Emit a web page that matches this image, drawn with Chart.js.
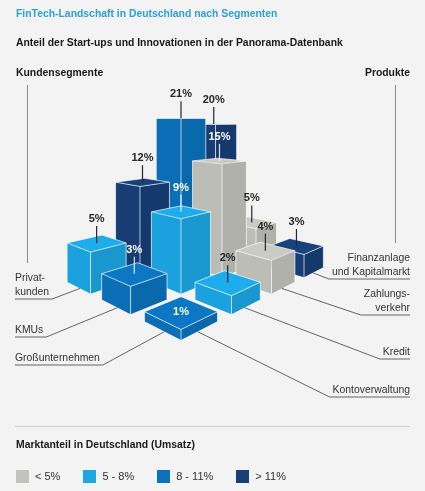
<!DOCTYPE html>
<html lang="de">
<head>
<meta charset="utf-8">
<title>FinTech-Landschaft in Deutschland nach Segmenten</title>
<script src="https://cdn.jsdelivr.net/npm/chart.js@4.4.1/dist/chart.umd.min.js"></script>
<style>
  html, body { margin: 0; padding: 0; background: #f3f3f3; }
  body { width: 425px; height: 491px; position: relative; overflow: hidden;
         font-family: 'Liberation Sans', Arial, sans-serif; color: #1a1a1a; }
  #chart { position: absolute; left: 0; top: 0; }
  .txt { position: absolute; font-size: 10.4px; line-height: 13px; white-space: nowrap; }
  .b { font-weight: bold; }
  .title { color: #2ba0d9; }
  .rule { position: absolute; left: 15px; width: 395px; height: 1px; background: #cfcfcf; top: 426px; }
  #legend { position: absolute; left: 16px; top: 470px; display: flex; font-size: 11px; line-height: 13px; color: #333; }
  #legend .item { display: flex; align-items: center; margin-right: 23px; }
  #legend .box { width: 13px; height: 13px; margin-right: 6px; }
</style>
</head>
<body>
<canvas id="chart" width="425" height="491"></canvas>

<div class="txt b title" style="top:7px;left:16px">FinTech-Landschaft in Deutschland nach Segmenten</div>
<div class="txt b" style="top:36px;left:16px">Anteil der Start-ups und Innovationen in der Panorama-Datenbank</div>
<div class="txt b" style="top:66px;left:16px">Kundensegmente</div>
<div class="txt b" style="top:66px;right:15px">Produkte</div>

<div class="rule"></div>
<div class="txt b" style="top:438px;left:16px">Marktanteil in Deutschland (Umsatz)</div>
<div id="legend"></div>

<script>
// ------------------------------------------------------------------
// DATA
const products = ['Kontoverwaltung', 'Kredit', 'Zahlungsverkehr', 'Finanzanlage und Kapitalmarkt'];
const productLabels = [['Kontoverwaltung'], ['Kredit'], ['Zahlungs-', 'verkehr'], ['Finanzanlage', 'und Kapitalmarkt']];
const segments = ['Großunternehmen', 'KMUs', 'Privatkunden'];
const segmentLabels = [['Großunternehmen'], ['KMUs'], ['Privat-', 'kunden']];

// share of start-ups (%) per segment, in product order
const grossunternehmen = [1, 2, 4, 3];
const kmus = [3, 9, 15, 5];
const privatkunden = [5, 12, 21, 20];

// market share class (index into marketClasses) per segment, in product order
const grossunternehmenClass = [2, 1, 0, 3];
const kmusClass = [2, 1, 0, 0];
const privatkundenClass = [1, 3, 2, 3];

const marketClasses = ['< 5%', '5 - 8%', '8 - 11%', '> 11%'];
const classColors = ['#c2c3bc', '#1ca6e4', '#0b72bd', '#183f78'];

const shares = [grossunternehmen, kmus, privatkunden];
const classes = [grossunternehmenClass, kmusClass, privatkundenClass];


// ------------------------------------------------------------------
// VIEW (2-point perspective of the grid, in px of the canvas)
const VIEW = { cx: 181, ax: 57, yh: 116, ground: 224, unit: 10.5, depth: 0.13, foot: 0.7 };
const LEFT_LINE_Y = [365, 337, 299];       // underline of segment labels
const RIGHT_LINE_Y = [397, 359, 315, 279]; // underline of product labels

// p = along products, q = along segments, h = value in %
function project(p, q, h) {
  const s = 1 / (1 + VIEW.depth * (p + q));
  return { x: VIEW.cx + VIEW.ax * (p - q) * s, y: VIEW.yh + (VIEW.ground - h * VIEW.unit) * s };
}

const cells = [];
shares.forEach((row, i) => {
  row.forEach((v, j) => cells.push({ i, j, v, c: classes[i][j] }));
});


// ------------------------------------------------------------------
// HELPERS
function shade(hex, f) {
  const n = parseInt(hex.slice(1), 16);
  const r = Math.min(255, Math.round(((n >> 16) & 255) * f));
  const g = Math.min(255, Math.round(((n >> 8) & 255) * f));
  const b = Math.min(255, Math.round((n & 255) * f));
  return `rgb(${r},${g},${b})`;
}

function poly(ctx, pts) {
  ctx.beginPath();
  ctx.moveTo(pts[0].x, pts[0].y);
  for (let k = 1; k < pts.length; k++) ctx.lineTo(pts[k].x, pts[k].y);
  ctx.closePath();
}

function inside(pt, pts) {
  let hit = false;
  for (let a = 0, b = pts.length - 1; a < pts.length; b = a++) {
    if ((pts[a].y > pt.y) !== (pts[b].y > pt.y) &&
        pt.x < (pts[b].x - pts[a].x) * (pt.y - pts[a].y) / (pts[b].y - pts[a].y) + pts[a].x) {
      hit = !hit;
    }
  }
  return hit;
}


// ------------------------------------------------------------------
// 3D BARS PLUGIN
const bars3d = {
  id: 'bars3d',
  afterDatasetsDraw(chart) {
    const ctx = chart.ctx;
    const xs = chart.scales.x;
    const ys = chart.scales.y;
    const px = pt => ({ x: xs.getPixelForValue(pt.x), y: ys.getPixelForValue(pt.y) });
    const w = VIEW.foot;

    const list = [];
    chart.data.datasets.forEach(ds => ds.data.forEach(d => list.push(d.cell)));
    list.sort((a, b) => (b.i + b.j) - (a.i + a.j));

    ctx.save();
    const drawn = [];
    list.forEach(cell => {
      const { i, j, v, c } = cell;
      const col = classColors[c];
      const f0 = px(project(j, i, 0)), l0 = px(project(j, i + w, 0)), r0 = px(project(j + w, i, 0));
      const f1 = px(project(j, i, v)), l1 = px(project(j, i + w, v)), r1 = px(project(j + w, i, v));
      const b1 = px(project(j + w, i + w, v));

      poly(ctx, [f0, l0, l1, f1]);
      ctx.fillStyle = shade(col, 0.97);
      ctx.fill();
      poly(ctx, [f0, r0, r1, f1]);
      ctx.fillStyle = shade(col, 0.91);
      ctx.fill();
      poly(ctx, [f1, r1, b1, l1]);
      ctx.fillStyle = shade(col, 1.04);
      ctx.fill();

      ctx.strokeStyle = 'rgba(255,255,255,0.75)';
      ctx.lineWidth = 0.9;
      poly(ctx, [f1, r1, b1, l1]);
      ctx.stroke();
      ctx.beginPath();
      ctx.moveTo(f0.x, f0.y); ctx.lineTo(f1.x, f1.y);
      ctx.moveTo(l0.x, l0.y); ctx.lineTo(l1.x, l1.y);
      ctx.moveTo(r0.x, r0.y); ctx.lineTo(r1.x, r1.y);
      ctx.stroke();

      drawn.push({ cell, outline: [f0, r0, r1, b1, l1, l0] });
    });

    // value labels
    ctx.font = "bold 11px 'Liberation Sans', Arial, sans-serif";
    ctx.textAlign = 'center';
    ctx.textBaseline = 'middle';
    drawn.forEach(({ cell }) => {
      const { i, j, v } = cell;
      const top = px(project(j + w / 2, i + w / 2, v));
      const onTop = v <= 1;
      const tp = onTop ? top : { x: top.x, y: top.y - 24 };
      let behind = null;
      drawn.forEach(d => { if (inside(tp, d.outline)) behind = d.cell; });
      const light = behind && behind.c !== 0;
      ctx.fillStyle = light ? '#ffffff' : '#262626';
      ctx.strokeStyle = light ? 'rgba(255,255,255,0.85)' : '#262626';
      ctx.fillText(`${v}%`, tp.x, tp.y);
      if (!onTop) {
        ctx.lineWidth = 1.2;
        ctx.beginPath();
        ctx.moveTo(top.x, tp.y + 7);
        ctx.lineTo(top.x, top.y);
        ctx.stroke();
      }
    });
    ctx.restore();
  },

  afterDraw(chart) {
    const ctx = chart.ctx;
    const xs = chart.scales.x;
    const ys = chart.scales.y;
    const px = pt => ({ x: xs.getPixelForValue(pt.x), y: ys.getPixelForValue(pt.y) });

    ctx.save();
    // axis markers beside the headings
    ctx.strokeStyle = '#8c8c8c';
    ctx.lineWidth = 1;
    ctx.beginPath();
    ctx.moveTo(27.5, 85); ctx.lineTo(27.5, 263);
    ctx.moveTo(395.5, 85); ctx.lineTo(395.5, 243);
    ctx.stroke();

    ctx.font = "10.4px 'Liberation Sans', Arial, sans-serif";
    ctx.fillStyle = '#333333';
    ctx.strokeStyle = '#555555';
    ctx.lineWidth = 0.9;
    ctx.textBaseline = 'alphabetic';

    // segment labels, left
    segmentLabels.forEach((lines, i) => {
      const uy = LEFT_LINE_Y[i];
      const maxW = Math.max(...lines.map(t => ctx.measureText(t).width));
      ctx.textAlign = 'left';
      lines.forEach((t, k) => ctx.fillText(t, 15, uy - 4 - (lines.length - 1 - k) * 14));
      const end = 15 + maxW + 3;
      const a = px(project(0, i + 0.3, 0));
      ctx.beginPath();
      ctx.moveTo(15, uy); ctx.lineTo(end, uy); ctx.lineTo(a.x, a.y);
      ctx.stroke();
    });

    // product labels, right
    productLabels.forEach((lines, j) => {
      const uy = RIGHT_LINE_Y[j];
      const maxW = Math.max(...lines.map(t => ctx.measureText(t).width));
      ctx.textAlign = 'right';
      lines.forEach((t, k) => ctx.fillText(t, 410, uy - 4 - (lines.length - 1 - k) * 14));
      const start = 410 - maxW - 3;
      const a = px(project(j + 0.3, 0, 0));
      ctx.beginPath();
      ctx.moveTo(410, uy); ctx.lineTo(start, uy); ctx.lineTo(a.x, a.y);
      ctx.stroke();
    });
    ctx.restore();
  }
};


// ------------------------------------------------------------------
// CHART
const datasets = marketClasses.map((name, k) => ({
  label: name,
  backgroundColor: classColors[k],
  pointRadius: 0,
  data: cells.filter(c => c.c === k).map(c => {
    const t = project(c.j + VIEW.foot / 2, c.i + VIEW.foot / 2, c.v);
    return { x: t.x, y: t.y, cell: c };
  }),
}));

new Chart(document.getElementById('chart'), {
  type: 'scatter',
  data: { datasets },
  options: {
    responsive: false,
    animation: false,
    events: [],
    layout: { padding: 0 },
    plugins: { legend: { display: false }, tooltip: { enabled: false } },
    scales: {
      x: { type: 'linear', min: 0, max: 425, display: false },
      y: { type: 'linear', min: 0, max: 491, reverse: true, display: false },
    },
  },
  plugins: [bars3d],
});

// legend
const legendEl = document.getElementById('legend');
marketClasses.forEach((name, k) => {
  const item = document.createElement('div');
  item.className = 'item';
  item.innerHTML = `<span class="box" style="background:${classColors[k]}"></span><span>${name}</span>`;
  legendEl.appendChild(item);
});
</script>
</body>
</html>
